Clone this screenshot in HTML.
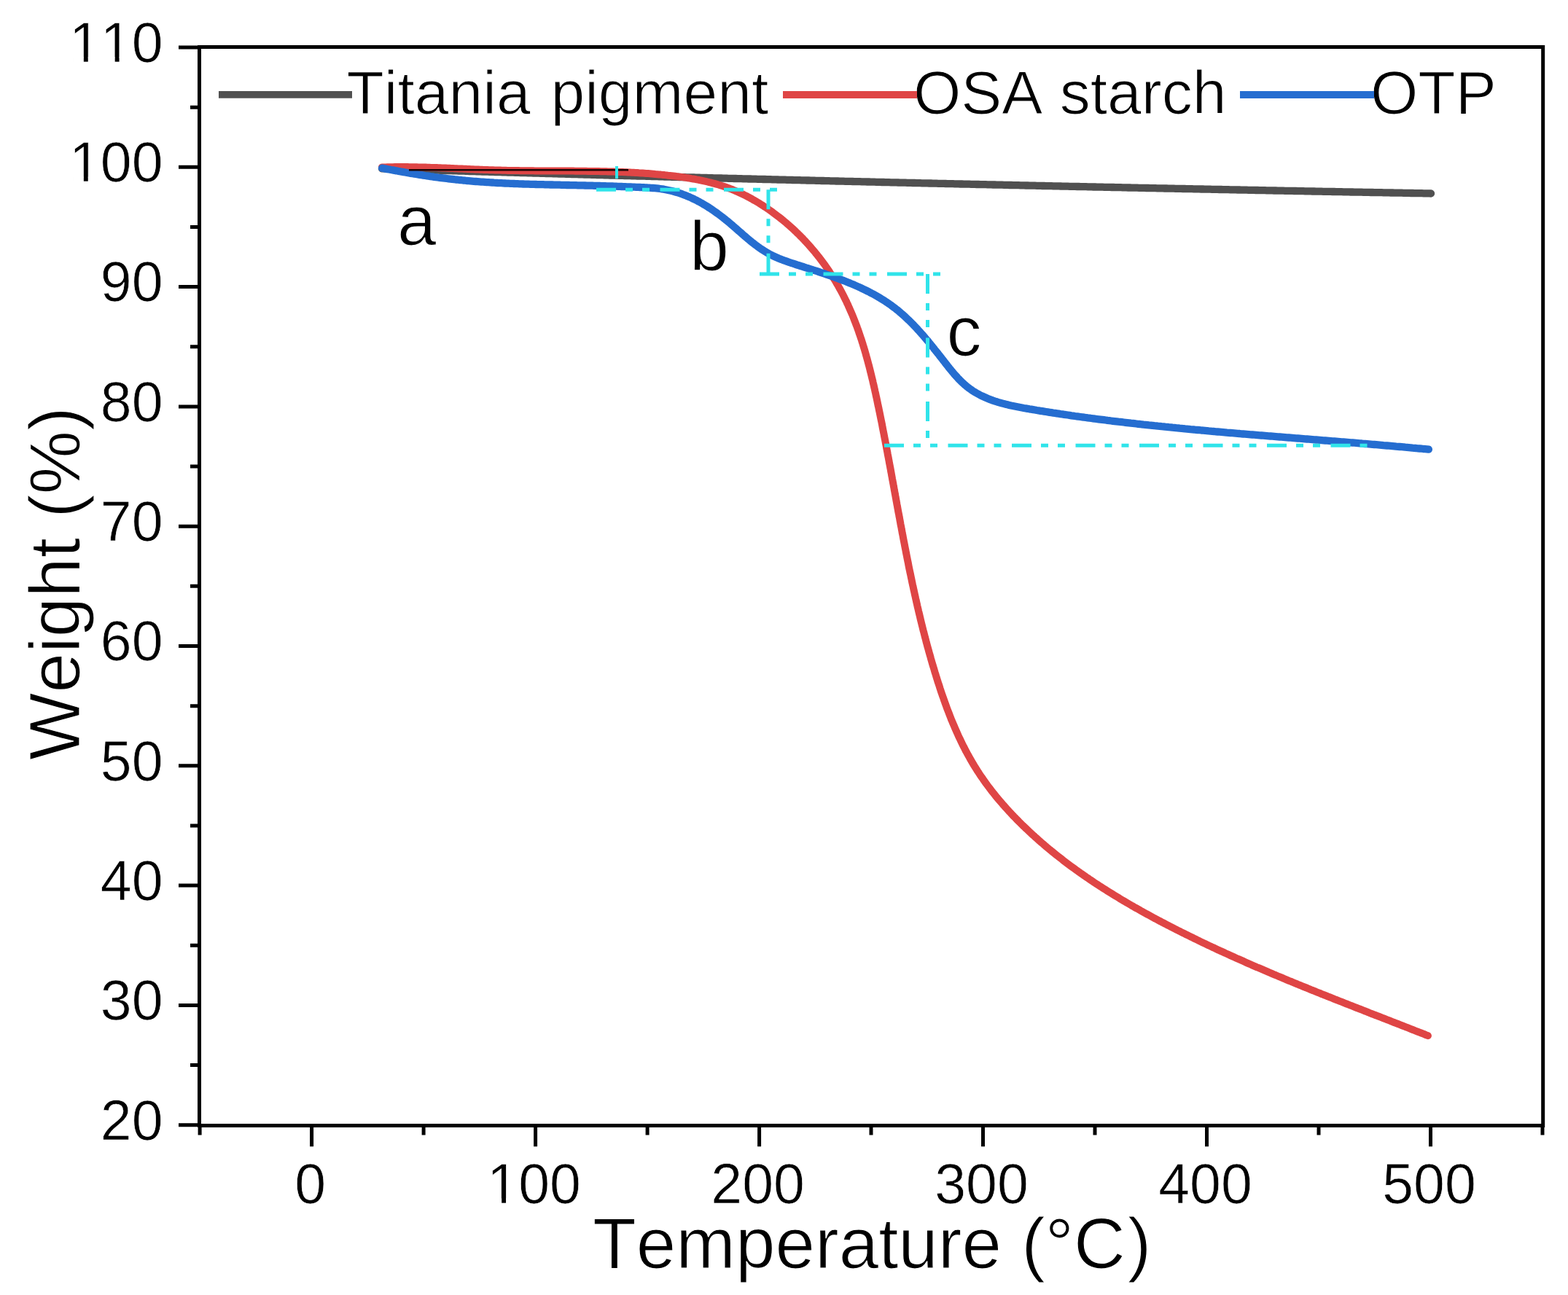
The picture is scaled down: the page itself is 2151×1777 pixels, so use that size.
<!DOCTYPE html>
<html><head><meta charset="utf-8"><title>TGA curves</title>
<style>html,body{margin:0;padding:0;background:#fff;}svg{display:block;}</style>
</head><body>
<svg width="2151" height="1777" viewBox="0 0 2151 1777">
<rect x="0" y="0" width="2151" height="1777" fill="#fff"/>
<path d="M523.9,231.3 526.4,231.4 528.9,231.5 531.4,231.6 533.9,231.6 536.4,231.7 538.9,231.8 541.4,231.9 544.0,231.9 546.5,232.0 549.0,232.1 551.5,232.2 554.0,232.3 556.5,232.3 559.0,232.4 561.5,232.5 564.0,232.6 566.5,232.6 569.0,232.7 571.5,232.8 574.0,232.9 576.5,232.9 579.0,233.0 581.5,233.1 584.0,233.2 586.5,233.2 589.0,233.3 591.5,233.4 594.0,233.5 596.5,233.5 599.0,233.6 601.5,233.7 604.0,233.8 606.5,233.8 609.0,233.9 611.5,234.0 614.0,234.1 616.5,234.1 619.0,234.2 621.5,234.3 624.0,234.4 626.5,234.4 629.0,234.5 631.5,234.6 634.0,234.7 636.5,234.7 639.0,234.8 641.5,234.9 644.0,235.0 646.5,235.0 649.0,235.1 651.5,235.2 654.0,235.3 656.5,235.3 659.0,235.4 661.5,235.5 664.0,235.6 666.5,235.6 669.1,235.7 671.6,235.8 674.1,235.9 676.6,235.9 679.1,236.0 681.6,236.1 684.1,236.1 686.6,236.2 689.1,236.3 691.6,236.4 694.1,236.4 696.6,236.5 699.1,236.6 701.6,236.7 704.1,236.7 706.6,236.8 709.1,236.9 711.6,236.9 714.1,237.0 716.6,237.1 719.1,237.2 721.6,237.2 724.1,237.3 726.6,237.4 729.1,237.4 731.6,237.5 734.1,237.6 736.6,237.7 739.1,237.7 741.6,237.8 744.1,237.9 746.6,237.9 749.1,238.0 751.6,238.1 754.1,238.2 756.6,238.2 759.1,238.3 761.6,238.4 764.1,238.4 766.6,238.5 769.1,238.6 771.6,238.6 774.1,238.7 776.6,238.8 779.1,238.9 781.7,238.9 784.2,239.0 786.7,239.1 789.2,239.1 791.7,239.2 794.2,239.3 796.7,239.4 799.2,239.4 801.7,239.5 804.2,239.6 806.7,239.6 809.2,239.7 811.7,239.8 814.2,239.8 816.7,239.9 819.2,240.0 821.7,240.0 824.2,240.1 826.7,240.2 829.2,240.3 831.7,240.3 834.2,240.4 836.7,240.5 839.2,240.5 841.7,240.6 844.2,240.7 846.7,240.7 849.2,240.8 851.7,240.9 854.2,240.9 856.7,241.0 859.2,241.1 861.7,241.1 864.2,241.2 866.7,241.3 869.2,241.3 871.7,241.4 874.2,241.5 876.7,241.5 879.2,241.6 881.7,241.7 884.3,241.7 886.8,241.8 889.3,241.9 891.8,241.9 894.3,242.0 896.8,242.1 899.3,242.2 901.8,242.2 904.3,242.3 906.8,242.4 909.3,242.4 911.8,242.5 914.3,242.6 916.8,242.6 919.3,242.7 921.8,242.8 924.3,242.8 926.8,242.9 929.3,242.9 931.8,243.0 934.3,243.1 936.8,243.1 939.3,243.2 941.8,243.3 944.3,243.3 946.8,243.4 949.3,243.5 951.8,243.5 954.3,243.6 956.8,243.7 959.3,243.7 961.8,243.8 964.3,243.9 966.8,243.9 969.3,244.0 971.8,244.1 974.3,244.1 976.8,244.2 979.3,244.3 981.9,244.3 984.4,244.4 986.9,244.5 989.4,244.5 991.9,244.6 994.4,244.6 996.9,244.7 999.4,244.8 1001.9,244.8 1004.4,244.9 1006.9,245.0 1009.4,245.0 1011.9,245.1 1014.4,245.2 1016.9,245.2 1019.4,245.3 1021.9,245.4 1024.4,245.4 1026.9,245.5 1029.4,245.5 1031.9,245.6 1034.4,245.7 1036.9,245.7 1039.4,245.8 1041.9,245.9 1044.4,245.9 1046.9,246.0 1049.4,246.0 1051.9,246.1 1054.4,246.2 1056.9,246.2 1059.4,246.3 1061.9,246.4 1064.4,246.4 1066.9,246.5 1069.4,246.6 1071.9,246.6 1074.5,246.7 1077.0,246.7 1079.5,246.8 1082.0,246.9 1084.5,246.9 1087.0,247.0 1089.5,247.1 1092.0,247.1 1094.5,247.2 1097.0,247.2 1099.5,247.3 1102.0,247.4 1104.5,247.4 1107.0,247.5 1109.5,247.5 1112.0,247.6 1114.5,247.7 1117.0,247.7 1119.5,247.8 1122.0,247.9 1124.5,247.9 1127.0,248.0 1129.5,248.0 1132.0,248.1 1134.5,248.2 1137.0,248.2 1139.5,248.3 1142.0,248.3 1144.5,248.4 1147.0,248.5 1149.5,248.5 1152.0,248.6 1154.5,248.6 1157.0,248.7 1159.5,248.8 1162.0,248.8 1164.6,248.9 1167.1,248.9 1169.6,249.0 1172.1,249.1 1174.6,249.1 1177.1,249.2 1179.6,249.2 1182.1,249.3 1184.6,249.4 1187.1,249.4 1189.6,249.5 1192.1,249.5 1194.6,249.6 1197.1,249.7 1199.6,249.7 1202.1,249.8 1204.6,249.8 1207.1,249.9 1209.6,250.0 1212.1,250.0 1214.6,250.1 1217.1,250.1 1219.6,250.2 1222.1,250.3 1224.6,250.3 1227.1,250.4 1229.6,250.4 1232.1,250.5 1234.6,250.6 1237.1,250.6 1239.6,250.7 1242.1,250.7 1244.6,250.8 1247.1,250.8 1249.6,250.9 1252.2,251.0 1254.7,251.0 1257.2,251.1 1259.7,251.1 1262.2,251.2 1264.7,251.3 1267.2,251.3 1269.7,251.4 1272.2,251.4 1274.7,251.5 1277.2,251.5 1279.7,251.6 1282.2,251.7 1284.7,251.7 1287.2,251.8 1289.7,251.8 1292.2,251.9 1294.7,251.9 1297.2,252.0 1299.7,252.1 1302.2,252.1 1304.7,252.2 1307.2,252.2 1309.7,252.3 1312.2,252.3 1314.7,252.4 1317.2,252.5 1319.7,252.5 1322.2,252.6 1324.7,252.6 1327.2,252.7 1329.7,252.7 1332.2,252.8 1334.7,252.9 1337.3,252.9 1339.8,253.0 1342.3,253.0 1344.8,253.1 1347.3,253.1 1349.8,253.2 1352.3,253.2 1354.8,253.3 1357.3,253.4 1359.8,253.4 1362.3,253.5 1364.8,253.5 1367.3,253.6 1369.8,253.6 1372.3,253.7 1374.8,253.7 1377.3,253.8 1379.8,253.9 1382.3,253.9 1384.8,254.0 1387.3,254.0 1389.8,254.1 1392.3,254.1 1394.8,254.2 1397.3,254.2 1399.8,254.3 1402.3,254.4 1404.8,254.4 1407.3,254.5 1409.8,254.5 1412.3,254.6 1414.8,254.6 1417.3,254.7 1419.8,254.7 1422.4,254.8 1424.9,254.8 1427.4,254.9 1429.9,255.0 1432.4,255.0 1434.9,255.1 1437.4,255.1 1439.9,255.2 1442.4,255.2 1444.9,255.3 1447.4,255.3 1449.9,255.4 1452.4,255.4 1454.9,255.5 1457.4,255.6 1459.9,255.6 1462.4,255.7 1464.9,255.7 1467.4,255.8 1469.9,255.8 1472.4,255.9 1474.9,255.9 1477.4,256.0 1479.9,256.0 1482.4,256.1 1484.9,256.1 1487.4,256.2 1489.9,256.2 1492.4,256.3 1494.9,256.4 1497.4,256.4 1499.9,256.5 1502.4,256.5 1505.0,256.6 1507.5,256.6 1510.0,256.7 1512.5,256.7 1515.0,256.8 1517.5,256.8 1520.0,256.9 1522.5,256.9 1525.0,257.0 1527.5,257.0 1530.0,257.1 1532.5,257.1 1535.0,257.2 1537.5,257.2 1540.0,257.3 1542.5,257.4 1545.0,257.4 1547.5,257.5 1550.0,257.5 1552.5,257.6 1555.0,257.6 1557.5,257.7 1560.0,257.7 1562.5,257.8 1565.0,257.8 1567.5,257.9 1570.0,257.9 1572.5,258.0 1575.0,258.0 1577.5,258.1 1580.0,258.1 1582.5,258.2 1585.0,258.2 1587.5,258.3 1590.1,258.3 1592.6,258.4 1595.1,258.4 1597.6,258.5 1600.1,258.5 1602.6,258.6 1605.1,258.6 1607.6,258.7 1610.1,258.7 1612.6,258.8 1615.1,258.8 1617.6,258.9 1620.1,258.9 1622.6,259.0 1625.1,259.0 1627.6,259.1 1630.1,259.1 1632.6,259.2 1635.1,259.2 1637.6,259.3 1640.1,259.3 1642.6,259.4 1645.1,259.4 1647.6,259.5 1650.1,259.5 1652.6,259.6 1655.1,259.6 1657.6,259.7 1660.1,259.7 1662.6,259.8 1665.1,259.8 1667.6,259.9 1670.1,259.9 1672.7,260.0 1675.2,260.0 1677.7,260.1 1680.2,260.1 1682.7,260.2 1685.2,260.2 1687.7,260.3 1690.2,260.3 1692.7,260.4 1695.2,260.4 1697.7,260.5 1700.2,260.5 1702.7,260.6 1705.2,260.6 1707.7,260.7 1710.2,260.7 1712.7,260.8 1715.2,260.8 1717.7,260.9 1720.2,260.9 1722.7,261.0 1725.2,261.0 1727.7,261.1 1730.2,261.1 1732.7,261.2 1735.2,261.2 1737.7,261.3 1740.2,261.3 1742.7,261.4 1745.2,261.4 1747.7,261.5 1750.2,261.5 1752.7,261.6 1755.3,261.6 1757.8,261.7 1760.3,261.7 1762.8,261.8 1765.3,261.8 1767.8,261.9 1770.3,261.9 1772.8,261.9 1775.3,262.0 1777.8,262.0 1780.3,262.1 1782.8,262.1 1785.3,262.2 1787.8,262.2 1790.3,262.3 1792.8,262.3 1795.3,262.4 1797.8,262.4 1800.3,262.5 1802.8,262.5 1805.3,262.6 1807.8,262.6 1810.3,262.7 1812.8,262.7 1815.3,262.8 1817.8,262.8 1820.3,262.9 1822.8,262.9 1825.3,262.9 1827.8,263.0 1830.3,263.0 1832.8,263.1 1835.3,263.1 1837.8,263.2 1840.4,263.2 1842.9,263.3 1845.4,263.3 1847.9,263.4 1850.4,263.4 1852.9,263.5 1855.4,263.5 1857.9,263.6 1860.4,263.6 1862.9,263.6 1865.4,263.7 1867.9,263.7 1870.4,263.8 1872.9,263.8 1875.4,263.9 1877.9,263.9 1880.4,264.0 1882.9,264.0 1885.4,264.1 1887.9,264.1 1890.4,264.2 1892.9,264.2 1895.4,264.2 1897.9,264.3 1900.4,264.3 1902.9,264.4 1905.4,264.4 1907.9,264.5 1910.4,264.5 1912.9,264.6 1915.4,264.6 1917.9,264.7 1920.4,264.7 1922.9,264.7 1925.5,264.8 1928.0,264.8 1930.5,264.9 1933.0,264.9 1935.5,265.0 1938.0,265.0 1940.5,265.1 1943.0,265.1 1945.5,265.2 1948.0,265.2 1950.5,265.2 1953.0,265.3 1955.5,265.3 1958.0,265.4 1960.5,265.4 1963.0,265.5" fill="none" stroke="#505050" stroke-width="10.3" stroke-linejoin="round" stroke-linecap="round"/>
<path d="M524.0,229.5 526.5,229.4 529.0,229.4 531.5,229.3 534.0,229.2 536.5,229.2 539.0,229.2 541.5,229.1 544.0,229.1 546.5,229.1 549.1,229.1 551.6,229.1 554.1,229.1 556.6,229.1 559.1,229.1 561.6,229.2 564.1,229.2 566.6,229.2 569.1,229.3 571.6,229.3 574.1,229.4 576.6,229.4 579.1,229.5 581.6,229.6 584.0,229.6 586.5,229.7 589.0,229.8 591.5,229.9 594.0,230.0 596.5,230.0 599.0,230.1 601.5,230.2 604.0,230.3 606.5,230.4 609.0,230.5 611.5,230.6 614.0,230.7 616.5,230.8 619.0,231.0 621.5,231.1 623.9,231.2 626.4,231.3 628.9,231.4 631.4,231.5 633.9,231.6 636.4,231.7 638.9,231.8 641.4,232.0 643.9,232.1 646.4,232.2 648.9,232.3 651.4,232.4 653.9,232.5 656.3,232.6 658.8,232.7 661.3,232.8 663.8,232.9 666.3,233.0 668.8,233.1 671.3,233.2 673.8,233.3 676.3,233.3 678.8,233.4 681.3,233.5 683.8,233.6 686.3,233.6 688.8,233.7 691.3,233.8 693.8,233.8 696.3,233.9 698.8,233.9 701.3,234.0 703.8,234.0 706.3,234.1 708.8,234.1 711.3,234.1 713.8,234.2 716.3,234.2 718.8,234.2 721.3,234.3 723.8,234.3 726.3,234.3 728.8,234.3 731.3,234.3 733.8,234.4 736.3,234.4 738.8,234.4 741.3,234.4 743.8,234.4 746.4,234.4 748.9,234.4 751.4,234.5 753.9,234.5 756.4,234.5 758.9,234.5 761.4,234.5 763.9,234.5 766.4,234.5 768.9,234.5 771.4,234.6 773.9,234.6 776.4,234.6 778.9,234.6 781.4,234.6 784.0,234.6 786.5,234.6 789.0,234.7 791.5,234.7 794.0,234.7 796.5,234.7 799.0,234.8 801.5,234.8 804.0,234.8 806.5,234.9 809.0,234.9 811.5,234.9 814.0,235.0 816.5,235.0 819.0,235.1 821.5,235.1 824.0,235.2 826.5,235.2 829.0,235.3 831.6,235.3 834.1,235.4 836.6,235.5 839.1,235.6 841.6,235.6 844.1,235.7 846.6,235.8 849.1,235.9 851.6,236.0 854.1,236.1 856.6,236.2 859.1,236.3 861.6,236.5 864.1,236.6 866.6,236.7 869.1,236.8 871.6,237.0 874.0,237.1 876.5,237.3 879.0,237.4 881.5,237.6 884.0,237.8 886.5,238.0 889.0,238.1 891.5,238.3 894.0,238.5 896.5,238.7 899.0,239.0 901.5,239.2 904.0,239.4 906.4,239.6 908.9,239.9 911.4,240.1 913.9,240.4 916.4,240.7 918.9,240.9 921.3,241.2 923.8,241.5 926.3,241.8 928.8,242.1 931.3,242.5 933.7,242.8 936.2,243.1 938.7,243.5 941.2,243.9 943.6,244.2 946.1,244.6 948.6,245.1 951.0,245.5 953.5,245.9 955.9,246.4 958.4,246.8 960.8,247.3 963.2,247.8 965.7,248.4 968.1,248.9 970.5,249.5 972.9,250.1 975.3,250.7 977.7,251.3 980.1,251.9 982.5,252.6 984.9,253.3 987.2,254.0 989.6,254.8 992.0,255.5 994.3,256.3 996.7,257.1 999.0,258.0 1001.3,258.8 1003.6,259.7 1005.9,260.7 1008.2,261.6 1010.5,262.6 1012.8,263.6 1015.0,264.6 1017.3,265.7 1019.5,266.8 1021.7,267.9 1024.0,269.0 1026.2,270.2 1028.4,271.3 1030.6,272.5 1032.7,273.8 1034.9,275.0 1037.1,276.3 1039.2,277.5 1041.4,278.8 1043.5,280.2 1045.6,281.5 1047.7,282.9 1049.8,284.2 1051.9,285.6 1053.9,287.0 1056.0,288.5 1058.0,289.9 1060.1,291.4 1062.1,292.9 1064.1,294.4 1066.1,295.9 1068.1,297.4 1070.1,299.0 1072.0,300.5 1074.0,302.1 1075.9,303.7 1077.8,305.3 1079.7,306.9 1081.6,308.6 1083.5,310.2 1085.4,311.9 1087.2,313.6 1089.1,315.3 1090.9,317.0 1092.7,318.8 1094.5,320.5 1096.3,322.3 1098.1,324.1 1099.8,325.8 1101.6,327.6 1103.3,329.5 1105.0,331.3 1106.7,333.1 1108.4,335.0 1110.1,336.9 1111.8,338.8 1113.4,340.7 1115.0,342.6 1116.7,344.5 1118.3,346.4 1119.8,348.4 1121.4,350.3 1123.0,352.3 1124.5,354.3 1126.0,356.3 1127.5,358.3 1129.0,360.3 1130.5,362.3 1132.0,364.3 1133.4,366.4 1134.8,368.4 1136.3,370.5 1137.7,372.6 1139.0,374.6 1140.4,376.7 1141.7,378.8 1143.1,381.0 1144.4,383.1 1145.7,385.2 1147.0,387.3 1148.2,389.5 1149.5,391.6 1150.7,393.8 1151.9,396.0 1153.1,398.2 1154.3,400.4 1155.4,402.5 1156.6,404.8 1157.7,407.0 1158.8,409.2 1159.9,411.4 1161.0,413.6 1162.0,415.9 1163.1,418.1 1164.1,420.4 1165.1,422.6 1166.1,424.9 1167.1,427.2 1168.1,429.5 1169.1,431.7 1170.0,434.0 1170.9,436.3 1171.8,438.6 1172.7,440.9 1173.6,443.3 1174.5,445.6 1175.4,447.9 1176.2,450.2 1177.1,452.6 1177.9,454.9 1178.7,457.3 1179.5,459.6 1180.3,462.0 1181.1,464.3 1181.9,466.7 1182.6,469.1 1183.4,471.4 1184.1,473.8 1184.8,476.2 1185.6,478.6 1186.3,481.0 1187.0,483.4 1187.7,485.8 1188.3,488.2 1189.0,490.6 1189.7,493.0 1190.3,495.4 1191.0,497.8 1191.6,500.3 1192.3,502.7 1192.9,505.1 1193.5,507.5 1194.1,510.0 1194.7,512.4 1195.3,514.8 1195.9,517.3 1196.5,519.7 1197.1,522.1 1197.6,524.6 1198.2,527.0 1198.8,529.5 1199.3,531.9 1199.9,534.4 1200.4,536.8 1201.0,539.3 1201.5,541.7 1202.0,544.2 1202.6,546.7 1203.1,549.1 1203.6,551.6 1204.1,554.0 1204.6,556.5 1205.2,558.9 1205.7,561.4 1206.2,563.9 1206.7,566.3 1207.2,568.8 1207.7,571.2 1208.2,573.7 1208.7,576.2 1209.2,578.6 1209.7,581.1 1210.2,583.6 1210.6,586.0 1211.1,588.5 1211.6,590.9 1212.1,593.4 1212.6,595.9 1213.0,598.3 1213.5,600.8 1214.0,603.2 1214.5,605.7 1214.9,608.2 1215.4,610.6 1215.9,613.1 1216.3,615.6 1216.8,618.0 1217.3,620.5 1217.7,622.9 1218.2,625.4 1218.7,627.9 1219.1,630.3 1219.6,632.8 1220.0,635.3 1220.5,637.7 1221.0,640.2 1221.4,642.6 1221.9,645.1 1222.3,647.6 1222.8,650.0 1223.2,652.5 1223.7,655.0 1224.1,657.4 1224.6,659.9 1225.0,662.3 1225.5,664.8 1225.9,667.3 1226.4,669.7 1226.8,672.2 1227.3,674.7 1227.7,677.1 1228.2,679.6 1228.6,682.0 1229.1,684.5 1229.5,687.0 1230.0,689.4 1230.4,691.9 1230.9,694.3 1231.3,696.8 1231.8,699.2 1232.2,701.7 1232.7,704.2 1233.2,706.6 1233.6,709.1 1234.1,711.5 1234.5,714.0 1235.0,716.4 1235.4,718.9 1235.9,721.4 1236.4,723.8 1236.8,726.3 1237.3,728.7 1237.7,731.2 1238.2,733.6 1238.7,736.1 1239.1,738.5 1239.6,741.0 1240.1,743.4 1240.6,745.9 1241.0,748.3 1241.5,750.8 1242.0,753.2 1242.5,755.7 1242.9,758.1 1243.4,760.6 1243.9,763.0 1244.4,765.5 1244.9,767.9 1245.4,770.4 1245.9,772.8 1246.3,775.3 1246.8,777.7 1247.3,780.2 1247.8,782.6 1248.3,785.0 1248.9,787.5 1249.4,789.9 1249.9,792.4 1250.4,794.8 1250.9,797.3 1251.4,799.7 1251.9,802.1 1252.5,804.6 1253.0,807.0 1253.5,809.4 1254.1,811.9 1254.6,814.3 1255.1,816.7 1255.7,819.2 1256.2,821.6 1256.8,824.0 1257.3,826.5 1257.9,828.9 1258.4,831.3 1259.0,833.8 1259.6,836.2 1260.1,838.6 1260.7,841.0 1261.3,843.5 1261.9,845.9 1262.4,848.3 1263.0,850.7 1263.6,853.2 1264.2,855.6 1264.8,858.0 1265.4,860.4 1266.0,862.9 1266.6,865.3 1267.3,867.7 1267.9,870.1 1268.5,872.5 1269.1,874.9 1269.8,877.3 1270.4,879.8 1271.0,882.2 1271.7,884.6 1272.3,887.0 1273.0,889.4 1273.7,891.8 1274.3,894.2 1275.0,896.6 1275.7,899.0 1276.4,901.4 1277.0,903.8 1277.7,906.2 1278.4,908.6 1279.1,911.0 1279.8,913.4 1280.6,915.8 1281.3,918.2 1282.0,920.6 1282.7,923.0 1283.5,925.4 1284.2,927.8 1284.9,930.2 1285.7,932.6 1286.4,935.0 1287.2,937.3 1288.0,939.7 1288.8,942.1 1289.5,944.5 1290.3,946.9 1291.1,949.3 1291.9,951.6 1292.7,954.0 1293.6,956.4 1294.4,958.7 1295.2,961.1 1296.1,963.5 1296.9,965.8 1297.8,968.2 1298.6,970.5 1299.5,972.9 1300.4,975.2 1301.3,977.6 1302.2,979.9 1303.1,982.2 1304.0,984.5 1304.9,986.9 1305.9,989.2 1306.8,991.5 1307.8,993.8 1308.8,996.1 1309.8,998.4 1310.8,1000.7 1311.8,1003.0 1312.8,1005.3 1313.8,1007.5 1314.8,1009.8 1315.9,1012.1 1317.0,1014.3 1318.0,1016.6 1319.1,1018.8 1320.2,1021.1 1321.3,1023.3 1322.5,1025.5 1323.6,1027.7 1324.7,1030.0 1325.9,1032.2 1327.1,1034.4 1328.3,1036.5 1329.5,1038.7 1330.7,1040.9 1332.0,1043.1 1333.2,1045.2 1334.5,1047.4 1335.7,1049.5 1337.0,1051.6 1338.4,1053.8 1339.7,1055.9 1341.0,1058.0 1342.4,1060.1 1343.7,1062.1 1345.1,1064.2 1346.5,1066.3 1348.0,1068.3 1349.4,1070.4 1350.8,1072.4 1352.3,1074.5 1353.8,1076.5 1355.2,1078.5 1356.8,1080.5 1358.3,1082.5 1359.8,1084.5 1361.3,1086.5 1362.9,1088.4 1364.5,1090.4 1366.0,1092.3 1367.6,1094.3 1369.2,1096.2 1370.8,1098.1 1372.5,1100.0 1374.1,1101.9 1375.7,1103.8 1377.4,1105.7 1379.1,1107.6 1380.8,1109.5 1382.4,1111.3 1384.1,1113.2 1385.9,1115.0 1387.6,1116.9 1389.3,1118.7 1391.0,1120.5 1392.8,1122.3 1394.5,1124.1 1396.3,1125.9 1398.1,1127.7 1399.9,1129.5 1401.6,1131.2 1403.4,1133.0 1405.2,1134.7 1407.1,1136.5 1408.9,1138.2 1410.7,1139.9 1412.5,1141.6 1414.4,1143.4 1416.2,1145.1 1418.1,1146.7 1419.9,1148.4 1421.8,1150.1 1423.7,1151.8 1425.5,1153.4 1427.4,1155.1 1429.3,1156.7 1431.2,1158.3 1433.1,1160.0 1435.0,1161.6 1436.9,1163.2 1438.8,1164.8 1440.8,1166.4 1442.7,1168.0 1444.6,1169.5 1446.6,1171.1 1448.5,1172.7 1450.5,1174.2 1452.4,1175.8 1454.4,1177.3 1456.4,1178.8 1458.3,1180.4 1460.3,1181.9 1462.3,1183.4 1464.3,1184.9 1466.3,1186.4 1468.3,1187.9 1470.3,1189.4 1472.3,1190.8 1474.3,1192.3 1476.3,1193.8 1478.4,1195.2 1480.4,1196.7 1482.4,1198.1 1484.5,1199.5 1486.5,1201.0 1488.6,1202.4 1490.6,1203.8 1492.7,1205.2 1494.7,1206.6 1496.8,1208.0 1498.9,1209.4 1500.9,1210.8 1503.0,1212.2 1505.1,1213.5 1507.2,1214.9 1509.3,1216.3 1511.4,1217.6 1513.5,1219.0 1515.6,1220.3 1517.7,1221.6 1519.8,1223.0 1521.9,1224.3 1524.0,1225.6 1526.2,1226.9 1528.3,1228.2 1530.4,1229.5 1532.6,1230.8 1534.7,1232.1 1536.8,1233.4 1539.0,1234.7 1541.1,1236.0 1543.3,1237.2 1545.4,1238.5 1547.6,1239.8 1549.7,1241.0 1551.9,1242.3 1554.1,1243.5 1556.2,1244.8 1558.4,1246.0 1560.6,1247.2 1562.8,1248.4 1565.0,1249.7 1567.1,1250.9 1569.3,1252.1 1571.5,1253.3 1573.7,1254.5 1575.9,1255.7 1578.1,1256.9 1580.3,1258.1 1582.5,1259.3 1584.7,1260.5 1586.9,1261.6 1589.1,1262.8 1591.3,1264.0 1593.5,1265.2 1595.7,1266.3 1598.0,1267.5 1600.2,1268.6 1602.4,1269.8 1604.6,1270.9 1606.8,1272.1 1609.1,1273.2 1611.3,1274.4 1613.5,1275.5 1615.7,1276.6 1618.0,1277.7 1620.2,1278.9 1622.4,1280.0 1624.7,1281.1 1626.9,1282.2 1629.2,1283.3 1631.4,1284.4 1633.6,1285.5 1635.9,1286.6 1638.1,1287.7 1640.4,1288.8 1642.6,1289.9 1644.9,1291.0 1647.1,1292.1 1649.4,1293.2 1651.6,1294.2 1653.9,1295.3 1656.2,1296.4 1658.4,1297.5 1660.7,1298.5 1662.9,1299.6 1665.2,1300.6 1667.5,1301.7 1669.7,1302.8 1672.0,1303.8 1674.3,1304.9 1676.6,1305.9 1678.8,1306.9 1681.1,1308.0 1683.4,1309.0 1685.7,1310.1 1687.9,1311.1 1690.2,1312.1 1692.5,1313.1 1694.8,1314.2 1697.0,1315.2 1699.3,1316.2 1701.6,1317.2 1703.9,1318.2 1706.2,1319.2 1708.5,1320.3 1710.8,1321.3 1713.1,1322.3 1715.3,1323.3 1717.6,1324.3 1719.9,1325.3 1722.2,1326.3 1724.5,1327.3 1726.8,1328.2 1729.1,1329.2 1731.4,1330.2 1733.7,1331.2 1736.0,1332.2 1738.3,1333.2 1740.6,1334.2 1742.9,1335.1 1745.2,1336.1 1747.5,1337.1 1749.8,1338.0 1752.1,1339.0 1754.4,1340.0 1756.8,1340.9 1759.1,1341.9 1761.4,1342.9 1763.7,1343.8 1766.0,1344.8 1768.3,1345.8 1770.6,1346.7 1772.9,1347.7 1775.2,1348.6 1777.6,1349.6 1779.9,1350.5 1782.2,1351.5 1784.5,1352.4 1786.8,1353.3 1789.1,1354.3 1791.5,1355.2 1793.8,1356.2 1796.1,1357.1 1798.4,1358.1 1800.7,1359.0 1803.1,1359.9 1805.4,1360.9 1807.7,1361.8 1810.0,1362.7 1812.3,1363.7 1814.7,1364.6 1817.0,1365.5 1819.3,1366.4 1821.6,1367.4 1824.0,1368.3 1826.3,1369.2 1828.6,1370.1 1830.9,1371.1 1833.3,1372.0 1835.6,1372.9 1837.9,1373.8 1840.2,1374.7 1842.6,1375.7 1844.9,1376.6 1847.2,1377.5 1849.6,1378.4 1851.9,1379.3 1854.2,1380.2 1856.5,1381.1 1858.9,1382.1 1861.2,1383.0 1863.5,1383.9 1865.9,1384.8 1868.2,1385.7 1870.5,1386.6 1872.8,1387.5 1875.2,1388.4 1877.5,1389.4 1879.8,1390.3 1882.2,1391.2 1884.5,1392.1 1886.8,1393.0 1889.1,1393.9 1891.5,1394.8 1893.8,1395.7 1896.1,1396.6 1898.5,1397.5 1900.8,1398.4 1903.1,1399.3 1905.4,1400.2 1907.8,1401.2 1910.1,1402.1 1912.4,1403.0 1914.7,1403.9 1917.1,1404.8 1919.4,1405.7 1921.7,1406.6 1924.0,1407.5 1926.4,1408.4 1928.7,1409.3 1931.0,1410.2 1933.3,1411.1 1935.7,1412.1 1938.0,1413.0 1940.3,1413.9 1942.6,1414.8 1945.0,1415.7 1947.3,1416.6 1949.6,1417.5 1951.9,1418.4 1954.3,1419.3 1956.6,1420.3 1958.9,1421.2" fill="none" stroke="#df4545" stroke-width="10.0" stroke-linejoin="round" stroke-linecap="round"/>
<path d="M524.1,230.7 526.5,231.1 529.0,231.6 531.4,232.1 533.9,232.5 536.3,233.0 538.8,233.4 541.3,233.9 543.7,234.3 546.2,234.8 548.6,235.2 551.1,235.7 553.6,236.1 556.0,236.5 558.5,237.0 561.0,237.4 563.4,237.8 565.9,238.2 568.4,238.6 570.8,239.0 573.3,239.4 575.8,239.8 578.3,240.2 580.7,240.6 583.2,241.0 585.7,241.3 588.1,241.7 590.6,242.1 593.1,242.4 595.6,242.8 598.0,243.1 600.5,243.5 603.0,243.8 605.5,244.1 608.0,244.4 610.4,244.7 612.9,245.0 615.4,245.3 617.9,245.6 620.4,245.9 622.8,246.2 625.3,246.5 627.8,246.7 630.3,247.0 632.8,247.2 635.3,247.5 637.8,247.7 640.3,248.0 642.7,248.2 645.2,248.4 647.7,248.6 650.2,248.8 652.7,249.0 655.2,249.2 657.7,249.4 660.2,249.6 662.7,249.7 665.2,249.9 667.7,250.1 670.2,250.2 672.6,250.4 675.1,250.5 677.6,250.7 680.1,250.8 682.6,251.0 685.1,251.1 687.6,251.2 690.1,251.4 692.6,251.5 695.1,251.6 697.6,251.7 700.1,251.8 702.6,251.9 705.1,252.0 707.6,252.1 710.1,252.2 712.6,252.3 715.1,252.4 717.6,252.5 720.1,252.6 722.6,252.6 725.1,252.7 727.6,252.8 730.1,252.9 732.6,252.9 735.1,253.0 737.6,253.1 740.1,253.1 742.6,253.2 745.1,253.2 747.6,253.3 750.1,253.4 752.6,253.4 755.1,253.5 757.6,253.5 760.1,253.6 762.6,253.6 765.1,253.7 767.6,253.7 770.1,253.8 772.6,253.9 775.1,253.9 777.6,254.0 780.1,254.0 782.6,254.1 785.1,254.1 787.6,254.2 790.1,254.2 792.6,254.3 795.1,254.3 797.6,254.4 800.1,254.4 802.6,254.5 805.1,254.6 807.6,254.6 810.1,254.7 812.6,254.7 815.1,254.8 817.6,254.9 820.1,254.9 822.6,255.0 825.1,255.1 827.6,255.2 830.1,255.2 832.6,255.3 835.1,255.4 837.6,255.5 840.2,255.5 842.7,255.6 845.2,255.7 847.7,255.8 850.2,255.9 852.7,256.0 855.2,256.1 857.7,256.2 860.2,256.3 862.8,256.4 865.3,256.5 867.8,256.6 870.3,256.7 872.9,256.8 875.4,256.9 877.9,257.0 880.5,257.1 883.0,257.2 885.5,257.3 888.1,257.5 890.6,257.6 893.1,257.8 895.7,258.0 898.2,258.2 900.7,258.4 903.2,258.7 905.7,259.0 908.2,259.3 910.6,259.7 913.1,260.2 915.5,260.7 917.9,261.2 920.3,261.7 922.7,262.3 925.1,263.0 927.5,263.7 929.8,264.4 932.2,265.1 934.5,265.9 936.8,266.8 939.1,267.6 941.4,268.5 943.6,269.5 945.9,270.4 948.1,271.4 950.4,272.5 952.6,273.5 954.8,274.6 957.0,275.8 959.2,276.9 961.3,278.1 963.5,279.3 965.6,280.6 967.8,281.9 969.9,283.2 972.0,284.5 974.1,285.8 976.2,287.2 978.2,288.6 980.3,290.1 982.3,291.5 984.4,293.0 986.4,294.5 988.4,296.0 990.4,297.5 992.4,299.1 994.4,300.6 996.3,302.2 998.3,303.8 1000.2,305.4 1002.2,307.1 1004.1,308.7 1006.0,310.4 1007.9,312.0 1009.8,313.7 1011.7,315.4 1013.6,317.1 1015.6,318.7 1017.5,320.4 1019.4,322.1 1021.3,323.7 1023.2,325.3 1025.1,327.0 1027.0,328.6 1029.0,330.2 1030.9,331.8 1032.9,333.3 1034.8,334.9 1036.8,336.4 1038.8,337.8 1040.8,339.3 1042.8,340.7 1044.9,342.1 1046.9,343.4 1049.0,344.8 1051.1,346.0 1053.2,347.2 1055.4,348.4 1057.5,349.6 1059.7,350.7 1061.9,351.7 1064.1,352.7 1066.4,353.7 1068.6,354.7 1070.9,355.6 1073.2,356.5 1075.5,357.4 1077.8,358.2 1080.2,359.0 1082.5,359.9 1084.9,360.7 1087.3,361.4 1089.6,362.2 1092.0,363.0 1094.4,363.8 1096.8,364.5 1099.2,365.3 1101.6,366.0 1104.0,366.8 1106.4,367.6 1108.8,368.3 1111.2,369.1 1113.6,369.9 1116.0,370.7 1118.4,371.4 1120.9,372.2 1123.3,373.0 1125.7,373.8 1128.1,374.6 1130.5,375.4 1132.9,376.3 1135.3,377.1 1137.7,377.9 1140.1,378.7 1142.5,379.6 1144.9,380.5 1147.3,381.3 1149.7,382.2 1152.1,383.1 1154.4,384.0 1156.8,384.9 1159.2,385.8 1161.5,386.7 1163.9,387.7 1166.2,388.6 1168.5,389.6 1170.9,390.6 1173.2,391.6 1175.5,392.6 1177.8,393.6 1180.1,394.7 1182.3,395.7 1184.6,396.8 1186.8,397.9 1189.1,399.0 1191.3,400.1 1193.5,401.3 1195.7,402.4 1197.9,403.6 1200.1,404.8 1202.3,406.0 1204.4,407.2 1206.6,408.5 1208.7,409.8 1210.8,411.1 1212.9,412.4 1214.9,413.7 1217.0,415.1 1219.0,416.5 1221.0,417.9 1223.0,419.3 1225.0,420.8 1227.0,422.3 1228.9,423.8 1230.9,425.3 1232.8,426.9 1234.6,428.5 1236.5,430.1 1238.4,431.7 1240.2,433.3 1242.0,435.0 1243.8,436.7 1245.6,438.4 1247.4,440.1 1249.2,441.9 1250.9,443.6 1252.7,445.4 1254.4,447.2 1256.1,449.0 1257.8,450.8 1259.5,452.7 1261.2,454.5 1262.8,456.4 1264.5,458.3 1266.2,460.1 1267.8,462.0 1269.4,464.0 1271.0,465.9 1272.7,467.8 1274.3,469.8 1275.9,471.7 1277.5,473.7 1279.1,475.6 1280.7,477.6 1282.2,479.6 1283.8,481.6 1285.4,483.5 1287.0,485.5 1288.5,487.5 1290.1,489.5 1291.7,491.5 1293.2,493.5 1294.8,495.5 1296.3,497.5 1297.9,499.5 1299.5,501.5 1301.0,503.5 1302.6,505.5 1304.2,507.4 1305.8,509.4 1307.4,511.3 1309.0,513.2 1310.7,515.1 1312.4,516.9 1314.0,518.8 1315.7,520.5 1317.5,522.3 1319.2,524.0 1321.0,525.7 1322.8,527.3 1324.6,528.9 1326.5,530.5 1328.4,532.0 1330.3,533.4 1332.3,534.8 1334.3,536.2 1336.3,537.5 1338.3,538.7 1340.4,539.9 1342.6,541.1 1344.7,542.2 1346.9,543.3 1349.1,544.3 1351.3,545.3 1353.6,546.3 1355.8,547.2 1358.1,548.1 1360.4,549.0 1362.8,549.8 1365.1,550.6 1367.5,551.3 1369.9,552.1 1372.3,552.8 1374.7,553.4 1377.2,554.1 1379.6,554.7 1382.1,555.3 1384.5,555.9 1387.0,556.5 1389.5,557.0 1392.0,557.5 1394.5,558.0 1397.0,558.5 1399.6,559.0 1402.1,559.5 1404.6,560.0 1407.1,560.4 1409.7,560.8 1412.2,561.3 1414.7,561.7 1417.3,562.1 1419.8,562.5 1422.3,563.0 1424.8,563.4 1427.3,563.8 1429.9,564.2 1432.4,564.6 1434.9,565.0 1437.4,565.4 1439.9,565.8 1442.4,566.2 1444.9,566.6 1447.4,566.9 1449.9,567.3 1452.4,567.7 1454.9,568.1 1457.4,568.4 1459.9,568.8 1462.4,569.2 1464.9,569.5 1467.4,569.9 1469.9,570.3 1472.3,570.6 1474.8,571.0 1477.3,571.3 1479.8,571.7 1482.3,572.0 1484.7,572.3 1487.2,572.7 1489.7,573.0 1492.2,573.4 1494.7,573.7 1497.1,574.0 1499.6,574.3 1502.1,574.7 1504.5,575.0 1507.0,575.3 1509.5,575.6 1512.0,575.9 1514.4,576.2 1516.9,576.5 1519.4,576.9 1521.8,577.2 1524.3,577.5 1526.8,577.8 1529.2,578.1 1531.7,578.4 1534.2,578.7 1536.6,578.9 1539.1,579.2 1541.6,579.5 1544.0,579.8 1546.5,580.1 1549.0,580.4 1551.4,580.7 1553.9,580.9 1556.4,581.2 1558.8,581.5 1561.3,581.8 1563.8,582.0 1566.3,582.3 1568.7,582.6 1571.2,582.8 1573.7,583.1 1576.1,583.4 1578.6,583.6 1581.1,583.9 1583.6,584.2 1586.0,584.4 1588.5,584.7 1591.0,584.9 1593.5,585.2 1596.0,585.4 1598.4,585.7 1600.9,585.9 1603.4,586.2 1605.9,586.4 1608.4,586.7 1610.8,586.9 1613.3,587.2 1615.8,587.4 1618.3,587.7 1620.8,587.9 1623.3,588.1 1625.7,588.4 1628.2,588.6 1630.7,588.8 1633.2,589.1 1635.7,589.3 1638.2,589.5 1640.7,589.8 1643.2,590.0 1645.6,590.2 1648.1,590.5 1650.6,590.7 1653.1,590.9 1655.6,591.1 1658.1,591.4 1660.6,591.6 1663.1,591.8 1665.6,592.0 1668.1,592.3 1670.6,592.5 1673.0,592.7 1675.5,592.9 1678.0,593.1 1680.5,593.3 1683.0,593.6 1685.5,593.8 1688.0,594.0 1690.5,594.2 1693.0,594.4 1695.5,594.6 1698.0,594.8 1700.5,595.0 1703.0,595.3 1705.5,595.5 1708.0,595.7 1710.5,595.9 1713.0,596.1 1715.5,596.3 1718.0,596.5 1720.5,596.7 1723.0,596.9 1725.5,597.1 1728.0,597.3 1730.5,597.5 1733.0,597.7 1735.5,597.9 1738.0,598.1 1740.5,598.3 1743.0,598.5 1745.5,598.7 1748.0,598.9 1750.5,599.1 1753.0,599.3 1755.5,599.5 1758.0,599.7 1760.5,599.9 1763.0,600.1 1765.5,600.3 1768.0,600.5 1770.5,600.7 1773.0,600.9 1775.5,601.1 1778.0,601.3 1780.5,601.5 1783.0,601.7 1785.5,601.9 1788.0,602.1 1790.5,602.3 1793.0,602.5 1795.5,602.7 1798.0,602.9 1800.5,603.1 1803.0,603.3 1805.5,603.5 1808.0,603.7 1810.5,603.9 1813.0,604.1 1815.5,604.3 1818.0,604.5 1820.5,604.7 1823.0,604.9 1825.5,605.1 1828.0,605.3 1830.5,605.5 1833.0,605.7 1835.5,605.9 1838.0,606.1 1840.5,606.3 1843.0,606.5 1845.5,606.7 1848.0,606.9 1850.5,607.1 1853.0,607.3 1855.5,607.5 1858.0,607.7 1860.4,607.9 1862.9,608.1 1865.4,608.3 1867.9,608.5 1870.4,608.8 1872.9,609.0 1875.4,609.2 1877.9,609.4 1880.4,609.6 1882.9,609.8 1885.4,610.0 1887.9,610.2 1890.4,610.4 1892.8,610.6 1895.3,610.8 1897.8,611.1 1900.3,611.3 1902.8,611.5 1905.3,611.7 1907.8,611.9 1910.3,612.1 1912.8,612.3 1915.2,612.6 1917.7,612.8 1920.2,613.0 1922.7,613.2 1925.2,613.4 1927.7,613.7 1930.1,613.9 1932.6,614.1 1935.1,614.3 1937.6,614.6 1940.1,614.8 1942.5,615.0 1945.0,615.3 1947.5,615.5 1950.0,615.7 1952.5,616.0 1954.9,616.2 1957.4,616.4 1959.9,616.7" fill="none" stroke="#256dd0" stroke-width="10.3" stroke-linejoin="round" stroke-linecap="round"/>
<line x1="561" y1="233.3" x2="862" y2="233.3" stroke="#1a0505" stroke-width="2.6"/>
<line x1="846" y1="228" x2="846" y2="245" stroke="#30e4ea" stroke-width="4"/>
<line x1="818" y1="260.3" x2="1066" y2="260.3" stroke="#30e4ea" stroke-width="5" stroke-dasharray="27 13 10 13 10 14.5"/>
<line x1="1054" y1="260.3" x2="1054" y2="376" stroke="#30e4ea" stroke-width="5" stroke-dasharray="27 13 10 13 10 14.5"/>
<line x1="1042" y1="376" x2="1291" y2="376" stroke="#30e4ea" stroke-width="5" stroke-dasharray="27 13 10 13 10 14.5"/>
<line x1="1272.5" y1="376" x2="1272.5" y2="611.2" stroke="#30e4ea" stroke-width="5" stroke-dasharray="27 13 10 13 10 14.5"/>
<line x1="1213" y1="611.2" x2="1877" y2="611.2" stroke="#30e4ea" stroke-width="5" stroke-dasharray="27 13 10 13 10 14.5"/>
<rect x="273.5" y="64.5" width="1843.2" height="1480" fill="none" stroke="#000" stroke-width="5"/>
<path d="M245,1543.7H273.5 M245,1379.4H273.5 M245,1215.1H273.5 M245,1050.8H273.5 M245,886.5H273.5 M245,722.2H273.5 M245,557.9H273.5 M245,393.6H273.5 M245,229.3H273.5 M245,65.0H273.5 M261,1461.5H273.5 M261,1297.2H273.5 M261,1133.0H273.5 M261,968.7H273.5 M261,804.3H273.5 M261,640.0H273.5 M261,475.8H273.5 M261,311.5H273.5 M261,147.2H273.5 M427.6,1544.5V1573.3 M734.6,1544.5V1573.3 M1041.6,1544.5V1573.3 M1348.5,1544.5V1573.3 M1655.5,1544.5V1573.3 M1962.5,1544.5V1573.3 M274.1,1544.5V1557.5 M581.1,1544.5V1557.5 M888.1,1544.5V1557.5 M1195.0,1544.5V1557.5 M1502.0,1544.5V1557.5 M1809.0,1544.5V1557.5 M2116.0,1544.5V1557.5" stroke="#000" stroke-width="5" fill="none"/>
<g font-family="Liberation Sans, Arial, Helvetica, sans-serif" fill="#000" stroke="#fff" stroke-width="1.2" style="font-kerning:none">
<text x="223.5" y="1563.5" font-size="77" text-anchor="end" stroke-width="0.7">20</text>
<text x="223.5" y="1399.2" font-size="77" text-anchor="end" stroke-width="0.7">30</text>
<text x="223.5" y="1234.9" font-size="77" text-anchor="end" stroke-width="0.7">40</text>
<text x="223.5" y="1070.6" font-size="77" text-anchor="end" stroke-width="0.7">50</text>
<text x="223.5" y="906.3" font-size="77" text-anchor="end" stroke-width="0.7">60</text>
<text x="223.5" y="742.0" font-size="77" text-anchor="end" stroke-width="0.7">70</text>
<text x="223.5" y="577.7" font-size="77" text-anchor="end" stroke-width="0.7">80</text>
<text x="223.5" y="413.4" font-size="77" text-anchor="end" stroke-width="0.7">90</text>
<text x="223.5" y="249.1" font-size="77" text-anchor="end" stroke-width="0.7">100</text>
<text x="223.5" y="84.8" font-size="77" text-anchor="end" stroke-width="0.7">110</text>
<text x="425.6" y="1650.8" font-size="77" text-anchor="middle" stroke-width="0.7">0</text>
<text x="732.6" y="1650.8" font-size="77" text-anchor="middle" stroke-width="0.7">100</text>
<text x="1039.6" y="1650.8" font-size="77" text-anchor="middle" stroke-width="0.7">200</text>
<text x="1346.5" y="1650.8" font-size="77" text-anchor="middle" stroke-width="0.7">300</text>
<text x="1653.5" y="1650.8" font-size="77" text-anchor="middle" stroke-width="0.7">400</text>
<text x="1960.5" y="1650.8" font-size="77" text-anchor="middle" stroke-width="0.7">500</text>
<text x="813" y="1740.4" font-size="98">Temperature (°C<tspan dx="3">)</tspan></text>
<text transform="translate(108.5,1043) rotate(-90)" x="0" y="0" font-size="98">Weight (%)</text>
<text x="545" y="336.2" font-size="96">a</text>
<text x="946" y="370.6" font-size="97">b</text>
<text x="1298.5" y="487.6" font-size="96">c</text>
<text x="475.5" y="155.5" font-size="84" word-spacing="4.5">Titania pigment</text>
<text x="1253" y="155.5" font-size="84">OSA starch</text>
<text x="1880" y="155.5" font-size="84">OTP</text>
</g>
<line x1="300" y1="129.8" x2="483" y2="129.8" stroke="#505050" stroke-width="9.8"/>
<line x1="1074" y1="130" x2="1258" y2="130" stroke="#df4545" stroke-width="9.9"/>
<line x1="1701" y1="130" x2="1885" y2="130" stroke="#256dd0" stroke-width="10.2"/>
<rect x="100.09" y="242.75" width="14.75" height="7.55" fill="#fff"/>
<rect x="120.75" y="242.75" width="14.15" height="7.55" fill="#fff"/>
<rect x="100.09" y="78.45" width="14.75" height="7.55" fill="#fff"/>
<rect x="120.75" y="78.45" width="14.15" height="7.55" fill="#fff"/>
<rect x="142.92" y="78.45" width="14.75" height="7.55" fill="#fff"/>
<rect x="163.57" y="78.45" width="14.15" height="7.55" fill="#fff"/>
<rect x="673.41" y="1644.45" width="14.75" height="7.55" fill="#fff"/>
<rect x="694.06" y="1644.45" width="14.15" height="7.55" fill="#fff"/>
</svg>
</body></html>
